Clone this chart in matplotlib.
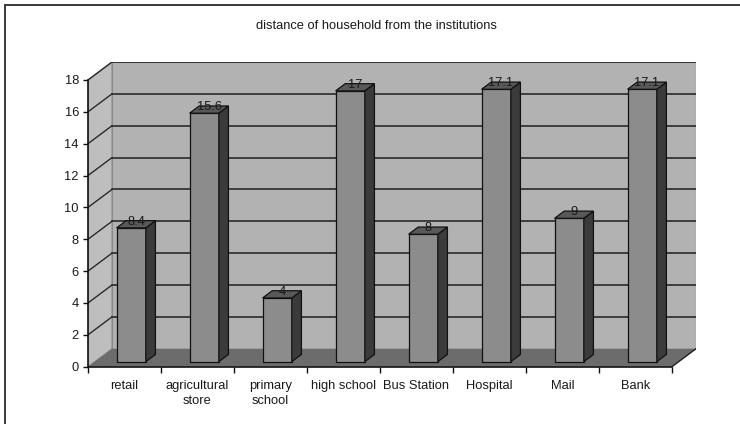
import matplotlib.pyplot as plt
from matplotlib.patches import Polygon, Rectangle

categories = ['retail', 'agricultural\nstore', 'primary\nschool', 'high school',
              'Bus Station', 'Hospital', 'Mail', 'Bank']
distance = [8.4, 15.6, 4, 17, 8, 17.1, 9, 17.1]
value_labels = ['8.4', '15.6', '4', '17', '8', '17.1', '9', '17.1']
yticks = [0, 2, 4, 6, 8, 10, 12, 14, 16, 18]

plt.rcParams['font.family'] = ['Liberation Sans', 'DejaVu Sans']

# depth of the box in data units (x: categories, y: value)
dx, dy = 0.329, 1.128
f1, f2 = 0.28, 0.68   # front / back of the bars inside the depth
bw = 0.4
n = len(categories)
ymax = 18

fig = plt.figure(figsize=(7.4, 4.24), dpi=100)
fig.patches.append(Rectangle((5 / 740, -0.1), 1.2, 1 - 5 / 424 + 0.1,
                             transform=fig.transFigure, fill=False,
                             edgecolor='#3a3a3a', linewidth=1.4))
fig.text(376 / 740, 1 - 26 / 424, 'distance of household from the institutions',
         ha='center', va='center', fontsize=9.3, color='#1a1a1a')

ax = fig.add_axes([88 / 740, (424 - 366.7) / 424, 608 / 740, 304.7 / 424])
ax.set_xlim(0, n + dx)
ax.set_ylim(0, ymax + dy)
ax.patch.set_visible(False)

# walls and floor
ax.add_patch(Polygon([(dx, dy), (n + dx, dy), (n + dx, ymax + dy), (dx, ymax + dy)],
                     facecolor='#b2b2b2', edgecolor='#8a8a8a', linewidth=0.8, zorder=1))
ax.add_patch(Polygon([(0, 0), (dx, dy), (dx, ymax + dy), (0, ymax)],
                     facecolor='#bebebe', edgecolor='#8a8a8a', linewidth=0.8, zorder=1))
ax.add_patch(Polygon([(0, 0), (n, 0), (n + dx, dy), (dx, dy)],
                     facecolor='#6c6c6c', edgecolor='none', zorder=1))
ax.plot([n, n + dx], [0, dy], color='#202020', linewidth=1.0, zorder=2)

# gridlines on back and side wall
for t in yticks[1:]:
    ax.plot([dx, n + dx], [t + dy, t + dy], color='#2a2a2a', linewidth=1.2, zorder=2)
    ax.plot([0, dx], [t, t + dy], color='#2a2a2a', linewidth=1.0, zorder=2)

# bars drawn as front, side and top faces
for i, v in enumerate(distance):
    x0 = i + 0.5 - bw / 2 + f1 * dx
    y0 = f1 * dy
    ddx = (f2 - f1) * dx
    ddy = (f2 - f1) * dy
    ax.add_patch(Rectangle((x0, y0), bw, v, facecolor='#8c8c8c',
                           edgecolor='#111111', linewidth=0.9, zorder=3))
    ax.add_patch(Polygon([(x0 + bw, y0), (x0 + bw + ddx, y0 + ddy),
                          (x0 + bw + ddx, y0 + v + ddy), (x0 + bw, y0 + v)],
                         facecolor='#3b3b3b', edgecolor='#111111', linewidth=0.9, zorder=3))
    ax.add_patch(Polygon([(x0, y0 + v), (x0 + bw, y0 + v),
                          (x0 + bw + ddx, y0 + v + ddy), (x0 + ddx, y0 + v + ddy)],
                         facecolor='#595959', edgecolor='#111111', linewidth=0.9, zorder=3))
    ax.text(i + 0.5 + (f1 + f2) / 2 * dx, v + f2 * dy - 0.08, value_labels[i],
            ha='center', va='center', fontsize=9.3, color='#1a1a1a', zorder=4)

# axes lines and ticks
for side in ['top', 'right']:
    ax.spines[side].set_visible(False)
ax.spines['left'].set_bounds(0, ymax)
ax.spines['bottom'].set_bounds(0, n)
ax.spines['left'].set_color('#111111')
ax.spines['bottom'].set_color('#111111')
ax.spines['left'].set_linewidth(1.2)
ax.spines['bottom'].set_linewidth(1.2)
ax.spines['left'].set_zorder(5)
ax.spines['bottom'].set_zorder(5)

ax.set_yticks(yticks)
ax.set_yticklabels([str(t) for t in yticks])
ax.tick_params(axis='y', direction='out', length=3.5, width=1.0, pad=3,
               labelsize=9.3, labelcolor='#1a1a1a', color='#111111')

ax.set_xticks(range(n + 1), minor=True)
ax.set_xticks([i + 0.5 for i in range(n)])
ax.set_xticklabels(categories, linespacing=1.35)
ax.tick_params(axis='x', which='major', length=0, pad=9.5,
               labelsize=9.3, labelcolor='#1a1a1a')
ax.tick_params(axis='x', which='minor', direction='out', length=4, width=1.0,
               color='#111111')

plt.savefig('out.png', dpi=100)
plt.close()
